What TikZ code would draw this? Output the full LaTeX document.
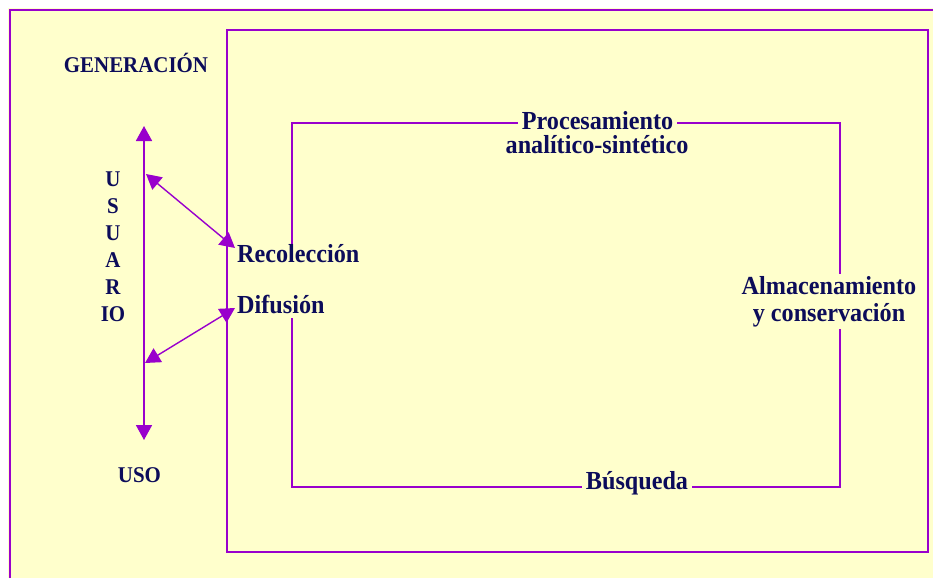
\documentclass[tikz,border=0pt]{standalone}
\usepackage{fontspec}
\setmainfont{Liberation Serif}[FakeStretch=0.93]
\usetikzlibrary{arrows.meta}
\definecolor{bgyellow}{HTML}{FFFFCC}
\definecolor{lineviolet}{HTML}{9900CC}
\definecolor{textnavy}{RGB}{12,12,90}
\tikzset{
  big/.style={font=\fontsize{26}{27}\selectfont\bfseries, text=textnavy, inner sep=0pt},
  small/.style={font=\fontsize{22.5}{27}\selectfont\bfseries, text=textnavy, inner sep=0pt},
  gap/.style={fill=bgyellow, inner xsep=4pt, inner ysep=2pt},
  frameline/.style={draw=lineviolet, line width=1.8pt},
  innerframe/.style={draw=lineviolet, line width=1.3pt},
  arrowline/.style={draw=lineviolet, line width=1.8pt,
    {Triangle[length=15pt,width=16pt]}-{Triangle[length=15pt,width=16pt]}},
  diagline/.style={draw=lineviolet, line width=1.4pt,
    {Triangle[length=15pt,width=16pt]}-{Triangle[length=15pt,width=16pt]}}
}
\begin{document}
\begin{tikzpicture}[x=1pt,y=-1pt]
\useasboundingbox (0,0) rectangle (933,578);
\fill[white] (0,0) rectangle (933,578);
\fill[bgyellow] (8,8) rectangle (933,578);
% outer frame (only left and top visible)
\draw[frameline, line width=2.2pt] (10,578) -- (10,10) -- (933,10);
% middle frame
\draw[frameline] (227,30) rectangle (928,552);
% inner frame
\draw[innerframe] (292,245) -- (292,123) -- (840,123) -- (840,487) -- (292,487) -- (292,318);

% labels on the inner frame
\node[big, gap, anchor=base] (proc) at (597.5,129) {Procesamiento};
\node[big, anchor=base] (proc2) at (597,153) {anal\'itico-sint\'etico};
\node[big, gap, align=center, anchor=base] (alm) at (829,321)
  {Almacenamiento\\y conservaci\'on};
\node[big, gap, anchor=base] (busq) at (637,489) {B\'usqueda};
\node[big, anchor=base west] (rec) at (237,262) {Recolecci\'on};
\node[big, anchor=base west] (dif) at (237,313) {Difusi\'on};

% left side
\node[small, anchor=base] (gen) at (136,72) {GENERACI\'ON};
\node[small, anchor=base] (uso) at (139.5,482) {USO};
\foreach \t [count=\i from 0] in {U,S,U,A,R,IO}
  \node[small, anchor=base] (l\i) at (113,186+27*\i) {\t};

% user axis
\coordinate (axtop) at (144,126);
\coordinate (axbot) at (144,440);
\draw[arrowline] (axbot) -- (axtop);

% diagonal arrows
\coordinate (ua) at (146,174);
\coordinate (rtip) at (235,248);
\coordinate (dtip) at (235,308);
\coordinate (ub) at (145,363);
\draw[diagline] (ua) -- (rtip);
\draw[diagline] (dtip) -- (ub);
\end{tikzpicture}
\end{document}
